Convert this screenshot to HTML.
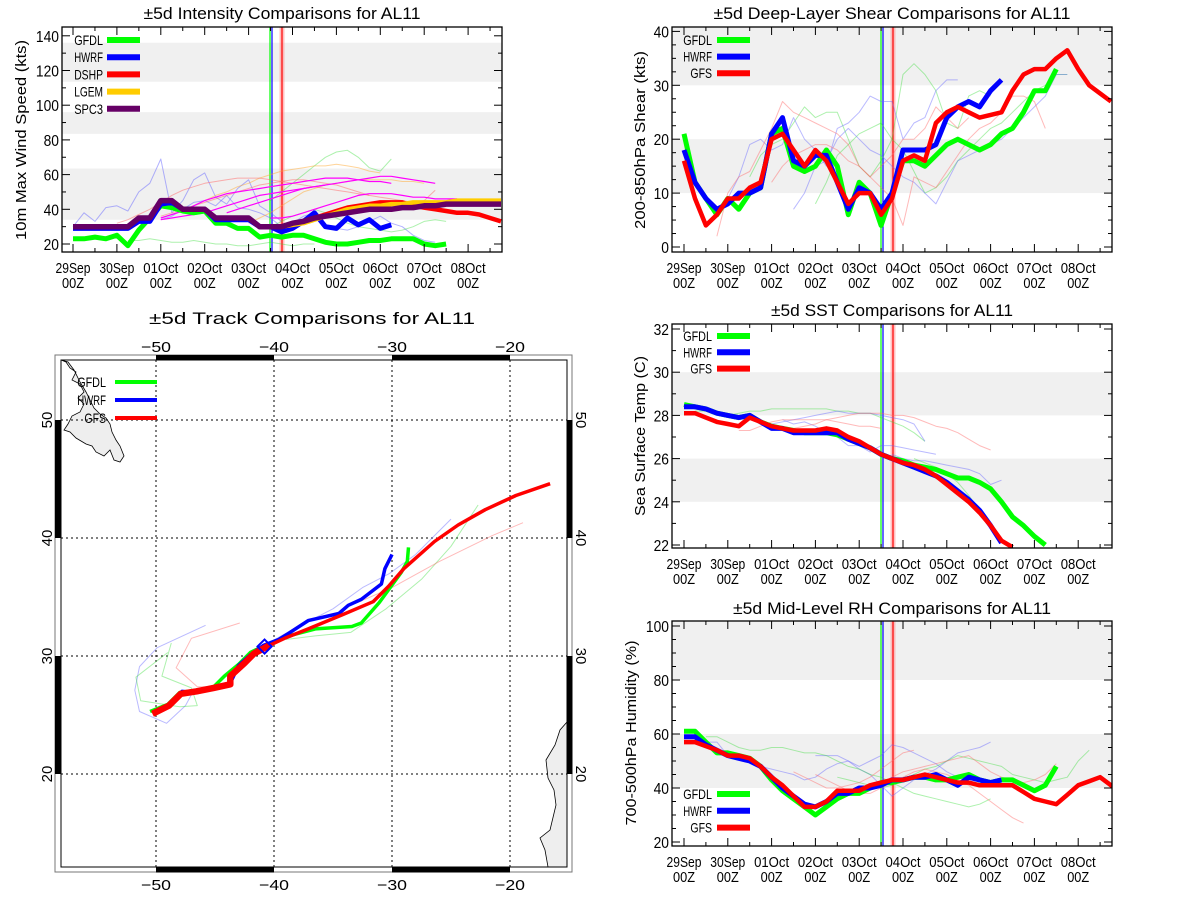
<!DOCTYPE html>
<html><head><meta charset="utf-8"><style>
html,body{margin:0;padding:0;background:#fff;width:1200px;height:900px;overflow:hidden}
svg{display:block;font-family:"Liberation Sans",sans-serif}
</style></head><body>
<svg id="root" width="1200" height="900" viewBox="0 0 1200 900"></svg>
<script>
// ---------- DATA (6-hourly steps from 29Sep 00Z) ----------
const dayLabels = ["29Sep","30Sep","01Oct","02Oct","03Oct","04Oct","05Oct","06Oct","07Oct","08Oct"];
// Intensity (kts)
const intGFDL = [23,23,24,23,25,19,28,35,42,41,39,38,39,32,32,29,29,24,25,24,25,25,23,21,20,20,21,22,22,23,23,23,20,19,20];
const intHWRF = [29,29,29,29,29,29,33,33,43,44,40,40,40,34,34,34,34,30,30,27,29,33,38,30,29,35,31,34,29,31];
const intDSHP = [30,30,30,30,30,30,35,35,45,45,40,40,40,35,35,35,35,30,30,30,31,33,35,37,39,41,42,43,44,44,44,42,41,40,39,38,38,37,35,33];
const intLGEM = [30,30,30,30,30,30,35,35,45,45,40,40,40,35,35,35,35,30,30,30,31,32,34,36,38,40,41,42,42,43,43,44,44,44,44,45,45,45,45,45];
const intSPC3 = [30,30,30,30,30,30,35,35,45,45,40,40,40,35,35,35,35,30,30,30,32,33,35,36,37,38,39,40,40,40,41,41,42,42,43,43,43,43,43,43];
const intThinBlue1 = [30,38,33,41,42,39,50,55,69,38,45,57,61,47,43,52,57,42,38,33];
const intThinBlue2 = [34,36,40,44,45,42,48,41,40,38,35,30,32,36,38,31,29,28,30,33,36,32,30,25,22,21];
const intThinGreen1 = [22,22,23,22,21,21,22,21,20,20,19,19,20,21,20,19,20,20];
const intThinGreen2 = [45,50,55,60,65,70,73,74,70,64,62,69];
const intThinGreen3 = [30,33,36,38,40,38,35,32,30,29,28,27,28,30,33,34,33];
const intMag1 = [35,37,39,42,45,47,49,50,51,52,53,54,55,56,57,58,58,58,57,56,56,55];
const intMag2 = [38,40,42,44,46,48,50,52,53,54,55,56,57,58,59,59,58,57,56,55];
const intMag3 = [34,35,36,37,38,40,42,44,46,48,49,50,51,52,53,54];
const intMag4 = [35,35,36,38,40,42,44,46,48,49,49,49,48,47,47,46,46,46];
const intOrange1 = [45,48,50,53,55,58,60,62,63,64,65,65,66,65,64,62,61];
const intOrange2 = [32,35,38,42,46,50,52,54,55,56,57,57,57,57,56,56,55];
const intPink1 = [32,34,37,40,44,48,51,53,55,56,57,58,58,58,57,56,55,54,53,52,51,50,49,48];
const intPink2 = [36,38,40,42,44,46,48,50,52,54,55,56,57,57,56,55,54,52,50,48,47,46,45,44,45,51];
// Shear (kts)
const shrGFDL = [21,12,9,6,9,7,10,11,21,22,15,14,15,18,15,6,12,10,4,10,16,16,15,17,19,20,19,18,19,21,22,25,29,29,33];
const shrHWRF = [18,12,9,7,8,10,10,11,21,24,16,15,17,17,12,7,11,10,7,10,18,18,18,19,24,26,27,26,29,31];
const shrGFS = [16,9,4,6,9,9,11,12,20,21,18,15,18,16,12,8,10,10,6,9,16,17,16,23,25,26,25,24,24.5,25,29,32,33,33,35,36.5,33,30,28.5,27];
const shrThinGreen1 = [13,17,19,20,23,26,24,25,25,20,15,13,16,20,32,34,32,29,23,22,28,29,28];
const shrThinGreen2 = [8,12,17,19,21,22,23,20,18,14,10,11,13,16,18,20,22,23,25,27,29,30,32,32];
const shrThinBlue1 = [9,13,19,20,18,19,24,20,18,15,22,23,25,28,27,27,20,23,24,29,31,31];
const shrThinBlue2 = [7,10,15,16,20,22,20,18,17,15,13,12,10,8,12,16,17,18,19,20,22,24,26,28,32,32];
const shrThinRed1 = [2,10,13,14,18,22,27,25,24,23,22,21,19,15,13,15,17,20,20,22,26,24,22,24];
const shrThinRed2 = [12,15,17,18,19,19,18,16,15,13,11,9,4,13,12,11,14,17,20,22,23,25,28,28,27,22];
// SST (C)
const sstGFDL = [28.5,28.4,28.3,28.1,28.0,27.9,28.0,27.7,27.5,27.4,27.3,27.2,27.2,27.2,27.1,26.9,26.7,26.5,26.2,26.0,25.9,25.7,25.6,25.5,25.3,25.1,25.1,24.9,24.6,24.0,23.3,22.9,22.4,22.0];
const sstHWRF = [28.4,28.4,28.3,28.1,28.0,27.9,28.0,27.7,27.4,27.4,27.2,27.2,27.2,27.2,27.2,26.9,26.7,26.5,26.2,26.0,25.8,25.6,25.4,25.2,24.9,24.5,24.1,23.6,22.9,22.1];
const sstGFS = [28.1,28.1,27.9,27.7,27.6,27.5,27.9,27.7,27.5,27.4,27.3,27.3,27.3,27.4,27.3,27.0,26.8,26.5,26.2,26.0,25.8,25.7,25.5,25.2,24.8,24.4,24.0,23.5,22.9,22.2,21.9];
const sstThinGreen1 = [28.2,28.2,28.1,28.0,28.1,28.2,28.2,28.3,28.3,28.3,28.3,28.3,28.3,28.2,28.2,28.1,28.1,27.9,27.7,27.5,27.2,26.8];
const sstThinBlue1 = [27.8,27.6,27.7,27.5,27.2,27.0,26.6,26.6,26.3,26.6,26.6,26.5,26.4,26.3,26.2];
const sstThinBlue2 = [27.6,27.7,27.8,27.9,28.0,28.1,28.2,28.1,28.1,28.1,28.0,27.9,27.8,27.6,26.8];
const sstThinRed1 = [27.5,27.4,27.5,27.6,27.8,27.9,28.0,28.1,28.1,28.1,28.0,28.0,27.9,27.7,27.5,27.4,27.2,26.9,26.6,26.4];
const sstThinRed2 = [27.3,27.3,27.5,27.7,27.8,27.8,27.8,27.8,27.8,27.7,27.6,27.5,27.5,27.4];
const sstThinBlue3 = [26.2,26.0,25.9,25.9,25.8,25.7,25.6,25.5,25.3,24.8,25.0];
const sstThinGreen2 = [26.0,25.8,25.6,25.3,24.9,24.3,23.6,23.0,22.3];
// RH (%)
const rhGFDL = [61,61,57,53,53,52,51,48,43,39,36,33,30,33,36,38,38,40,42,42,43,44,44,43,43,44,45,43,42,43,43,41,39,41,48];
const rhHWRF = [59,59,56,54,52,51,50,48,44,40,37,34,33,35,38,38,40,40,41,43,43,44,44,45,43,41,44,43,42,43];
const rhGFS = [57,57,55.5,54,52,52,51,48,44,41,37,33,33,35,39,39,39,41,42,43,43,44,45,44,43,42,42,41,41,41,41,38.5,36,35,34,37.5,41,42.5,44,41,38];
const rhThinBlue1 = [59,57,57,52,52,51,48,47,46,45,43,44,47,49,50,48,50,52,56,55,53,51,49,46,44];
const rhThinBlue2 = [52,52,52,50,47,45,41,37,40,43,45,47,50,53,54,55,57];
const rhThinGreen1 = [59,59,57,55,54,54,55,55,54,53,53,52,50,48,47,45,44,42,40,38,37,36,35,34,33,34,36];
const rhThinGreen2 = [44,43,42,41,40,41,43,45,47,48,50,52,51,50,49,48,45,44,43,42,43,44,50,54];
const rhThinRed1 = [46,44,42,40,40,41,42,44,47,50,53,54];
const rhThinRed2 = [45,43,41,39,38,38,40,42,44,46,47,46,45,43,41,38,35,32,29,27];
const rhThinRed3 = [42,44,46,47,48,49,50,51,52,49,46,44,43,42,43,45,49];
// Track (lon, lat)
const trkGFSLon = [-50.3,-48.9,-47.9,-46.6,-45.1,-43.7,-43.7,-42.5,-41.7,-40.4,-39.1,-37.1,-34.2,-31.6,-30.3,-29.0,-26.4,-24.4,-22.1,-19.5,-16.6];
const trkGFSLat = [25.1,25.8,26.8,27.0,27.3,27.6,28.3,29.4,30.2,30.9,31.5,32.3,33.5,34.6,35.9,37.4,39.7,41.1,42.4,43.6,44.6];
const trkGFDLLon = [-50.5,-49,-48,-46.6,-45.1,-44.2,-43.0,-42.0,-40.8,-39.5,-38.4,-36.5,-33.4,-32.6,-31.1,-30.3,-29.2,-28.7,-28.6];
const trkGFDLLat = [25.3,25.9,26.9,27.1,27.4,28.3,29.3,30.3,30.9,31.4,31.8,32.3,32.5,32.8,34.5,35.6,37.1,38.0,39.2];
const trkHWRFLon = [-50.2,-48.9,-47.8,-46.5,-45.0,-43.8,-43.0,-42.0,-40.9,-39.6,-38.8,-37.1,-34.5,-33.7,-32.6,-30.9,-30.6,-30.0];
const trkHWRFLat = [25.2,25.8,27.0,26.9,27.3,27.5,29.2,30.1,30.9,31.4,31.9,33.0,33.6,34.3,34.8,36.1,37.4,38.6];
const trkThinBlue1Lon = [-45.8,-49.9,-51.4,-51.8,-51.4,-49.1,-47.5,-46.8];
const trkThinBlue1Lat = [32.6,30.7,29.1,27.1,25.3,24.3,25.8,27.1];
const trkThinGreen1Lon = [-49.0,-51.7,-51.3,-48.0,-46.5,-47.0,-49.5,-48.7];
const trkThinGreen1Lat = [30.3,28.2,26.2,25.7,25.8,27.3,28.3,31.1];
const trkThinRed1Lon = [-42.9,-47.0,-48.3,-46.5,-44.2];
const trkThinRed1Lat = [32.8,31.5,29.0,27.4,27.4];
const trkThinBlue2Lon = [-41.0,-38.5,-35.0,-32.5,-30.2,-28.0,-25.0];
const trkThinBlue2Lat = [30.8,32.2,34.0,35.8,37.0,38.6,41.6];
const trkThinGreen2Lon = [-39.0,-36.5,-33.5,-30.5,-27.5,-25.0,-22.7];
const trkThinGreen2Lat = [31.4,31.7,32.0,34.0,36.5,39.3,42.8];
const trkThinRed2Lon = [-33.0,-30.0,-26.0,-21.5,-18.9];
const trkThinRed2Lat = [34.5,35.8,38.0,40.2,41.3];
const yIntTicks = [20,40,60,80,100,120,140];
const yShrTicks = [0,10,20,30,40];
const ySstTicks = [22,24,26,28,30,32];
const yRhTicks = [20,40,60,80,100];
const lonTicks = [-50,-40,-30,-20];
const latTicks = [20,30,40,50];

// ---------- RENDER ----------
const NS = "http://www.w3.org/2000/svg";
const root = document.getElementById('root');
function mk(tag, attrs, parent) {
  const e = document.createElementNS(NS, tag);
  for (const k in attrs) e.setAttribute(k, attrs[k]);
  (parent || root).appendChild(e);
  return e;
}
function txt(str, x, y, size, anchor, parent, len) {
  const t = mk('text', {x: x, y: y, 'font-size': size, 'text-anchor': anchor || 'middle', fill: '#000'}, parent);
  if (len) { t.setAttribute('textLength', len); t.setAttribute('lengthAdjust', 'spacingAndGlyphs'); }
  t.textContent = str;
  return t;
}

function panel(cfg) {
  const g = mk('g', {});
  
  
  const xOf = d => cfg.day0 + cfg.ppd * d;
  const yOf = v => cfg.yRefPx - (v - cfg.yRefVal) * cfg.ppu;
  const clipId = 'clip-' + cfg.name;
  const cp = mk('clipPath', {id: clipId}, g);
  mk('rect', {x: cfg.x0, y: cfg.y0, width: cfg.x1 - cfg.x0, height: cfg.y1 - cfg.y0}, cp);
  cfg.bands.forEach(b => {
    const ya = Math.max(cfg.y0, yOf(b[1])), yb = Math.min(cfg.y1, yOf(b[0]));
    const r = mk('rect', {x: cfg.x0, y: ya, width: cfg.x1 - cfg.x0, height: yb - ya, fill: '#f0f0f0'}, g);
    
    
  });
  const lg = mk('g', {'clip-path': 'url(#' + clipId + ')'}, g);
  const vl = [[cfg.vG, '#00ff00', 1.2], [cfg.vB, '#0000ff', 1.2], [cfg.vR, '#ff9999', 5], [cfg.vR, '#ff0000', 1.2]];
  vl.forEach(v => {
    const l = mk('line', {x1: v[0], x2: v[0], y1: cfg.y0, y2: cfg.y1, stroke: v[1], 'stroke-width': v[2], 'stroke-opacity': v[1] === '#ff9999' ? 0.6 : 1}, lg);
    
    
  });
  cfg.series.forEach(s => {
    const pts = s.vals.map((v, i) => xOf((s.start + i) * 0.25).toFixed(1) + ',' + yOf(v).toFixed(1)).join(' ');
    const p = mk('polyline', {points: pts, fill: 'none', stroke: s.color, 'stroke-width': s.w, 'stroke-opacity': s.op || 1, 'stroke-linejoin': 'round'}, lg);
    
    
  });
  const fr = mk('rect', {x: cfg.x0, y: cfg.y0, width: cfg.x1 - cfg.x0, height: cfg.y1 - cfg.y0, fill: 'none', stroke: '#000', 'stroke-width': 1.3}, g);
  
  
  const xa = mk('g', {}, g);
  
  
  for (let h = -1; h <= 20; h++) {
    const d = h * 0.5, x = xOf(d);
    if (x < cfg.x0 || x > cfg.x1) continue;
    const L = (h % 2 === 0) ? 8 : 4;
    mk('line', {x1: x, x2: x, y1: cfg.y1, y2: cfg.y1 - L, stroke: '#000'}, xa);
    mk('line', {x1: x, x2: x, y1: cfg.y0, y2: cfg.y0 + L, stroke: '#000'}, xa);
  }
  dayLabels.forEach((lab, i) => {
    const t1 = txt(lab, xOf(i), cfg.y1 + 21, 14.5, 'middle', xa, 35);
    
    
    const t2 = txt('00Z', xOf(i), cfg.y1 + 36, 14.5, 'middle', xa, 22);
    
    
  });
  const ya = mk('g', {}, g);
  
  
  for (let v = cfg.yMinorStart; v <= cfg.yMax; v += cfg.yMinor) {
    const y = yOf(v);
    if (y < cfg.y0 - 0.5 || y > cfg.y1 + 0.5) continue;
    const major = cfg.yTicks.some(t => Math.abs(t - v) < 1e-6);
    const L = major ? 8 : 4;
    mk('line', {x1: cfg.x0, x2: cfg.x0 + L, y1: y, y2: y, stroke: '#000'}, ya);
    mk('line', {x1: cfg.x1, x2: cfg.x1 - L, y1: y, y2: y, stroke: '#000'}, ya);
  }
  cfg.yTicks.forEach(v => {
    const s = String(v);
    const t = txt(s, cfg.x0 - 3, yOf(v) + 6, 15.5, 'end', ya, s.length * 7.7);
    
    
  });
  const yt = txt(cfg.ytitle, 0, 0, 14.5, 'middle', g, cfg.ytLen);
  yt.setAttribute('transform', 'translate(' + cfg.ytX + ',' + cfg.ytY + ') rotate(-90)');
  
  
  const tt = txt(cfg.title, cfg.tX, cfg.tY, 16.5, 'middle', g, cfg.tLen);
  
  
  cfg.legend.forEach((e, i) => {
    const y = cfg.legY + i * cfg.legDy;
    const lg2 = mk('g', {}, g);
    
    
    const t = txt(e[0], cfg.legTx, y + 5, 14, 'end', lg2, e[0].length * 7.2);
    
    
    mk('line', {x1: cfg.legLx, x2: cfg.legLx + 33, y1: y, y2: y, stroke: e[1], 'stroke-width': 6}, lg2);
  });
}

const G = '#00ff00', B = '#0000ff', R = '#ff0000', Y = '#ffcc00', P = '#660066';
const lg = '#33dd33', lb = '#6666ff', lr = '#ff6666', mg = '#ff00ff', lo = '#ffaa33';

panel({name: 'intensity-panel', x0: 62, x1: 502, y0: 27, y1: 252, day0: 73, ppd: 43.9, yRefVal: 20, yRefPx: 244, ppu: 1.735,
  bands: [[34, 63.5], [83.5, 96], [113.5, 136]], vG: 270, vB: 272, vR: 282,
  yTicks: yIntTicks, yMinor: 10, yMinorStart: 20, yMax: 145,
  ytitle: '10m Max Wind Speed (kts)', ytX: 26, ytY: 140, ytLen: 200, title: '±5d Intensity Comparisons for AL11', tX: 282, tY: 19, tLen: 277,
  legend: [['GFDL', G], ['HWRF', B], ['DSHP', R], ['LGEM', Y], ['SPC3', P]], legY: 40, legDy: 17.2, legTx: 103, legLx: 107,
  series: [
    {vals: intThinBlue1, start: 0, color: lb, w: 1, op: .5, label: 'hwrf-old-run'},
    {vals: intThinBlue2, start: 8, color: lb, w: 1, op: .5, label: 'hwrf-old-run'},
    {vals: intThinGreen1, start: 5, color: lg, w: 1, op: .4, label: 'gfdl-old-run'},
    {vals: intThinGreen2, start: 18, color: lg, w: 1, op: .4, label: 'gfdl-old-run'},
    {vals: intThinGreen3, start: 18, color: lg, w: 1, op: .4, label: 'gfdl-old-run'},
    {vals: intOrange1, start: 12, color: lo, w: 1, op: .5, label: 'lgem-old-run'},
    {vals: intOrange2, start: 16, color: lo, w: 1, op: .5, label: 'lgem-old-run'},
    {vals: intPink1, start: 4, color: lr, w: 1, op: .5, label: 'dshp-old-run'},
    {vals: intPink2, start: 8, color: lr, w: 1, op: .5, label: 'dshp-old-run'},
    {vals: intMag1, start: 8, color: mg, w: 1.2, label: 'spc3-old-run'},
    {vals: intMag2, start: 14, color: mg, w: 1.2, label: 'spc3-old-run'},
    {vals: intMag3, start: 8, color: mg, w: 1.2, label: 'spc3-old-run'},
    {vals: intMag4, start: 18, color: mg, w: 1.2, label: 'spc3-old-run'},
    {vals: intGFDL, start: 0, color: G, w: 5, label: 'gfdl-line'},
    {vals: intHWRF, start: 0, color: B, w: 5, label: 'hwrf-line'},
    {vals: intDSHP, start: 0, color: R, w: 4.5, label: 'dshp-line'},
    {vals: intLGEM, start: 0, color: Y, w: 4.5, label: 'lgem-line'},
    {vals: intSPC3, start: 0, color: P, w: 5.5, label: 'spc3-line'}
  ]});

const common = {x0: 672, x1: 1112, day0: 684, ppd: 43.8, vG: 881, vB: 883, vR: 893, legTx: 712, legLx: 717, ytX: 0};

panel(Object.assign({}, common, {name: 'shear-panel', y0: 27, y1: 252, yRefVal: 0, yRefPx: 247, ppu: 5.39,
  bands: [[10, 20], [30, 42]], yTicks: yShrTicks, yMinor: 2.5, yMinorStart: 0, yMax: 41,
  ytitle: '200-850hPa Shear (kts)', ytX: 645, ytY: 140, ytLen: 178, title: '±5d Deep-Layer Shear Comparisons for AL11', tX: 892, tY: 19, tLen: 357,
  legend: [['GFDL', G], ['HWRF', B], ['GFS', R]], legY: 40, legDy: 16.6,
  series: [
    {vals: shrThinGreen1, start: 6, color: lg, w: 1, op: .4, label: 'gfdl-old-run'},
    {vals: shrThinGreen2, start: 12, color: lg, w: 1, op: .4, label: 'gfdl-old-run'},
    {vals: shrThinBlue1, start: 4, color: lb, w: 1, op: .45, label: 'hwrf-old-run'},
    {vals: shrThinBlue2, start: 10, color: lb, w: 1, op: .45, label: 'hwrf-old-run'},
    {vals: shrThinRed1, start: 3, color: lr, w: 1, op: .45, label: 'gfs-old-run'},
    {vals: shrThinRed2, start: 8, color: lr, w: 1, op: .45, label: 'gfs-old-run'},
    {vals: shrGFDL, start: 0, color: G, w: 5, label: 'gfdl-line'},
    {vals: shrHWRF, start: 0, color: B, w: 5, label: 'hwrf-line'},
    {vals: shrGFS, start: 0, color: R, w: 4.5, label: 'gfs-line'}
  ]}));

panel(Object.assign({}, common, {name: 'sst-panel', y0: 324, y1: 548, yRefVal: 22, yRefPx: 545, ppu: 21.6,
  bands: [[24, 26], [28, 30]], yTicks: ySstTicks, yMinor: 1, yMinorStart: 22, yMax: 32.3,
  ytitle: 'Sea Surface Temp (C)', ytX: 645, ytY: 436, ytLen: 160, title: '±5d SST Comparisons for AL11', tX: 892, tY: 316, tLen: 242,
  legend: [['GFDL', G], ['HWRF', B], ['GFS', R]], legY: 336, legDy: 16.3,
  series: [
    {vals: sstThinGreen1, start: 1, color: lg, w: 1, op: .4, label: 'gfdl-old-run'},
    {vals: sstThinGreen2, start: 21, color: lg, w: 1, op: .4, label: 'gfdl-old-run'},
    {vals: sstThinBlue1, start: 9, color: lb, w: 1, op: .45, label: 'hwrf-old-run'},
    {vals: sstThinBlue2, start: 8, color: lb, w: 1, op: .45, label: 'hwrf-old-run'},
    {vals: sstThinBlue3, start: 19, color: lb, w: 1, op: .45, label: 'hwrf-old-run'},
    {vals: sstThinRed1, start: 9, color: lr, w: 1, op: .45, label: 'gfs-old-run'},
    {vals: sstThinRed2, start: 5, color: lr, w: 1, op: .45, label: 'gfs-old-run'},
    {vals: sstGFDL, start: 0, color: G, w: 5, label: 'gfdl-line'},
    {vals: sstHWRF, start: 0, color: B, w: 5, label: 'hwrf-line'},
    {vals: sstGFS, start: 0, color: R, w: 4.5, label: 'gfs-line'}
  ]}));

panel(Object.assign({}, common, {name: 'rh-panel', y0: 621, y1: 846, yRefVal: 20, yRefPx: 842, ppu: 2.7,
  bands: [[40, 60], [80, 103]], yTicks: yRhTicks, yMinor: 5, yMinorStart: 20, yMax: 102,
  ytitle: '700-500hPa Humidity (%)', ytX: 636, ytY: 733, ytLen: 185, title: '±5d Mid-Level RH Comparisons for AL11', tX: 892, tY: 614, tLen: 318,
  legend: [['GFDL', G], ['HWRF', B], ['GFS', R]], legY: 794, legDy: 16.8,
  series: [
    {vals: rhThinBlue1, start: 1, color: lb, w: 1, op: .45, label: 'hwrf-old-run'},
    {vals: rhThinBlue2, start: 12, color: lb, w: 1, op: .45, label: 'hwrf-old-run'},
    {vals: rhThinGreen1, start: 2, color: lg, w: 1, op: .4, label: 'gfdl-old-run'},
    {vals: rhThinGreen2, start: 14, color: lg, w: 1, op: .4, label: 'gfdl-old-run'},
    {vals: rhThinRed1, start: 10, color: lr, w: 1, op: .45, label: 'gfs-old-run'},
    {vals: rhThinRed2, start: 12, color: lr, w: 1, op: .45, label: 'gfs-old-run'},
    {vals: rhThinRed3, start: 18, color: lr, w: 1, op: .45, label: 'gfs-old-run'},
    {vals: rhGFDL, start: 0, color: G, w: 5, label: 'gfdl-line'},
    {vals: rhHWRF, start: 0, color: B, w: 5, label: 'hwrf-line'},
    {vals: rhGFS, start: 0, color: R, w: 4.5, label: 'gfs-line'}
  ]}));

// ---------- TRACK MAP ----------
(function () {
  const g = mk('g', {});
  
  
  const lonX = l => 156 + (l + 50) * 11.8;
  const latY = la => 656 - (la - 30) * 11.8;
  const ix0 = 61, ix1 = 567, iy0 = 360, iy1 = 867;
  const cp = mk('clipPath', {id: 'clip-map'}, g);
  mk('rect', {x: ix0, y: iy0, width: ix1 - ix0, height: iy1 - iy0}, cp);
  const mg2 = mk('g', {'clip-path': 'url(#clip-map)'}, g);
  const nf = mk('polygon', {points: '61,360 66,362 70,368 76,372 72,380 80,384 84,392 78,398 84,404 80,412 72,416 68,424 64,430 70,432 76,438 86,444 92,446 96,452 104,456 110,450 114,460 120,462 124,456 120,446 116,440 112,432 110,424 106,418 100,414 94,408 90,400 86,392 80,382 74,370 68,362', fill: '#eeeeee', stroke: '#000', 'stroke-width': 0.8}, mg2);
  
  
  const af = mk('polygon', {points: '567,722 560,730 555,745 546,760 548,778 554,790 556,805 550,830 540,838 545,850 548,867 567,867', fill: '#eeeeee', stroke: '#000', 'stroke-width': 0.8}, mg2);
  
  
  lonTicks.forEach(l => {
    const gl = mk('line', {x1: lonX(l), x2: lonX(l), y1: iy0, y2: iy1, stroke: '#000', 'stroke-width': 1, 'stroke-dasharray': '2,3'}, mg2);
    
    
  });
  latTicks.forEach(la => {
    const gl = mk('line', {x1: ix0, x2: ix1, y1: latY(la), y2: latY(la), stroke: '#000', 'stroke-width': 1, 'stroke-dasharray': '2,3'}, mg2);
    
    
  });
  const tracks = [
    [trkThinBlue1Lon, trkThinBlue1Lat, lb, 1, .45, 'hwrf-old-track'],
    [trkThinGreen1Lon, trkThinGreen1Lat, lg, 1, .4, 'gfdl-old-track'],
    [trkThinRed1Lon, trkThinRed1Lat, lr, 1, .45, 'gfs-old-track'],
    [trkThinBlue2Lon, trkThinBlue2Lat, lb, 1, .45, 'hwrf-old-track'],
    [trkThinGreen2Lon, trkThinGreen2Lat, lg, 1, .4, 'gfdl-old-track'],
    [trkThinRed2Lon, trkThinRed2Lat, lr, 1, .45, 'gfs-old-track'],
    [trkGFDLLon, trkGFDLLat, G, 3.5, 1, 'gfdl-track'],
    [trkHWRFLon, trkHWRFLat, B, 3.5, 1, 'hwrf-track'],
    [trkGFSLon, trkGFSLat, R, 3.5, 1, 'gfs-track']
  ];
  tracks.forEach(t => {
    const pts = t[0].map((l, i) => lonX(l).toFixed(1) + ',' + latY(t[1][i]).toFixed(1)).join(' ');
    const p = mk('polyline', {points: pts, fill: 'none', stroke: t[2], 'stroke-width': t[3], 'stroke-opacity': t[4], 'stroke-linejoin': 'round'}, mg2);
    
    
  });
  const early = trkGFSLon.slice(0, 10).map((l, i) => lonX(l).toFixed(1) + ',' + latY(trkGFSLat[i]).toFixed(1)).join(' ');
  const ep = mk('polyline', {points: early, fill: 'none', stroke: R, 'stroke-width': 6.5, 'stroke-linejoin': 'round'}, mg2);
  
  
  const dm = mk('rect', {x: lonX(-40.8) - 5, y: latY(30.8) - 5, width: 10, height: 10, fill: 'none', stroke: B, 'stroke-width': 2, transform: 'rotate(45 ' + lonX(-40.8) + ' ' + latY(30.8) + ')'}, mg2);
  
  
  mk('rect', {x: 55, y: 355, width: 517, height: 517, fill: 'none', stroke: '#777', 'stroke-width': 1}, g);
  mk('rect', {x: ix0, y: iy0, width: ix1 - ix0, height: iy1 - iy0, fill: 'none', stroke: '#000', 'stroke-width': 1}, g);
  [[-50, -40], [-30, -20]].forEach(p => {
    mk('rect', {x: lonX(p[0]), y: 355, width: lonX(p[1]) - lonX(p[0]), height: 5.5, fill: '#000'}, g);
    mk('rect', {x: lonX(p[0]), y: 867, width: lonX(p[1]) - lonX(p[0]), height: 5.5, fill: '#000'}, g);
  });
  [[50, 40], [30, 20]].forEach(p => {
    mk('rect', {x: 55, y: latY(p[0]), width: 6, height: latY(p[1]) - latY(p[0]), fill: '#000'}, g);
    mk('rect', {x: 567, y: latY(p[0]), width: 5.5, height: latY(p[1]) - latY(p[0]), fill: '#000'}, g);
  });
  lonTicks.forEach(l => {
    const a = txt('\u2212' + Math.abs(l), lonX(l), 352, 15, 'middle', g, 30);
    
    
    const b = txt('\u2212' + Math.abs(l), lonX(l), 890, 15, 'middle', g, 30);
    
    
  });
  latTicks.forEach(la => {
    const a = txt(String(la), 0, 0, 15, 'middle', g);
    a.setAttribute('transform', 'translate(52,' + latY(la) + ') rotate(-90)');
    
    
    const b = txt(String(la), 0, 0, 15, 'middle', g);
    b.setAttribute('transform', 'translate(576,' + latY(la) + ') rotate(90)');
    
    
  });
  const tt = txt('±5d Track Comparisons for AL11', 312, 324, 16.5, 'middle', g, 326);
  
  
  [['GFDL', G], ['HWRF', B], ['GFS', R]].forEach((e, i) => {
    const y = 382 + i * 18;
    const t = txt(e[0], 106, y + 5, 14, 'end', g, e[0].length * 7.2);
    
    
    const l = mk('line', {x1: 115, x2: 157, y1: y, y2: y, stroke: e[1], 'stroke-width': 4}, g);
    
    
  });
})();
</script>
</body></html>
